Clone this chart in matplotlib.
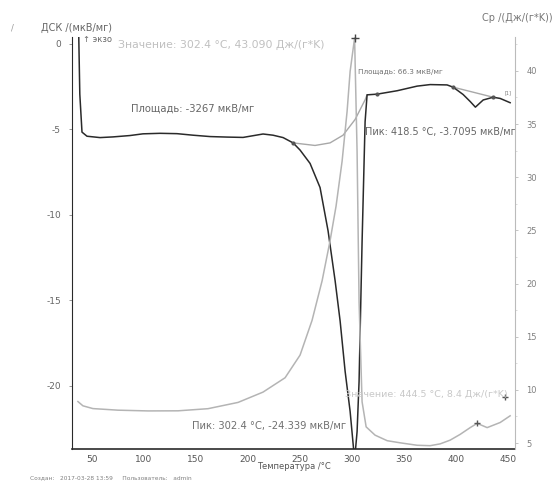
import matplotlib.pyplot as plt
import numpy as np

# ДСК, мкВ/мг (левая ось)
dsc_t = [37.3, 38.3, 40.4, 45.2, 57.7, 70.2, 86.5, 99.0, 115.4, 131.7, 147.1, 163.5,
         179.8, 195.2, 204.8, 214.4, 224.0, 233.7, 243.3, 250.0, 259.6, 269.2, 276.9,
         283.7, 288.5, 293.3, 298.1, 302.4, 304.8, 306.7, 309.6, 312.5, 314.4, 324.0,
         343.3, 362.5, 375.0, 391.3, 397.1, 406.7, 413.5, 418.5, 426.0, 435.6, 442.3, 451.9]
dsc_v = [0.4, -2.95, -5.17, -5.41, -5.49, -5.45, -5.37, -5.27, -5.24, -5.26, -5.35, -5.43,
         -5.46, -5.48, -5.38, -5.28, -5.35, -5.49, -5.8, -6.22, -7.0, -8.41, -10.94,
         -13.87, -16.22, -19.16, -21.5, -24.339, -22.68, -19.76, -11.58, -4.56, -2.99, -2.95,
         -2.75, -2.48, -2.39, -2.41, -2.54, -2.97, -3.38, -3.71, -3.29, -3.13, -3.2, -3.45]

# базовые линии интегрирования
bl1_t = [243.3, 264.4, 278.8, 291.3, 302.9, 312.5, 314.4]
bl1_v = [-5.8, -5.95, -5.8, -5.35, -4.43, -3.28, -2.99]
bl2_t = [397.1, 435.6]
bl2_v = [-2.54, -3.13]

# Cp, Дж/(г*K) (правая ось)
cp_t = [36.5, 41.3, 50.9, 75.0, 103.8, 132.7, 161.5, 190.4, 214.4, 235.6, 250.0, 261.5,
        271.2, 278.8, 284.6, 290.4, 295.2, 298.1, 302.4, 304.8, 306.7, 309.6, 313.5, 322.1,
        333.7, 346.2, 362.5, 375.0, 384.6, 394.2, 403.8, 413.5, 420.2, 429.8, 442.3, 451.9]
cp_v = [8.9, 8.5, 8.24, 8.09, 8.02, 8.03, 8.23, 8.82, 9.79, 11.14, 13.27, 16.53,
        20.27, 24.01, 27.29, 31.51, 36.2, 39.95, 43.09, 32.4, 18.29, 8.88, 6.52, 5.74,
        5.22, 5.02, 4.79, 4.75, 4.92, 5.27, 5.81, 6.45, 6.85, 6.45, 6.93, 7.56]

x_ticks = [50, 100, 150, 200, 250, 300, 350, 400, 450]
dsc_ticks = [0, -5, -10, -15, -20]
cp_ticks = [5, 10, 15, 20, 25, 30, 35, 40]

dark = '#2a2a2a'
light = '#b4b4b4'

fig = plt.figure(figsize=(5.56, 4.82), dpi=100)
ax = fig.add_axes([0.1295, 0.0685, 0.797, 0.855])
ax2 = ax.twinx()

ax.plot(bl1_t, bl1_v, color='#a8a8a8', lw=1.0)
ax.plot(bl2_t, bl2_v, color='#a8a8a8', lw=1.0)
ax.plot(dsc_t, dsc_v, color=dark, lw=1.1)
ax.plot([243.3, 324.0, 397.1, 435.6], [-5.8, -2.95, -2.54, -3.13], ls='none',
        marker='o', ms=2, color='#555555')

ax2.plot(cp_t, cp_v, color=light, lw=1.1)
ax2.plot([302.4], [43.09], marker='+', ms=6, mew=1, color='#444444', clip_on=False)
ax2.plot([420.2, 447.0], [6.85, 9.3], ls='none', marker='+', ms=4, mew=1, color='#555555')

ax.set_xlim(30.8, 456.7)
ax.set_ylim(-23.7, 0.4)
ax2.set_ylim(4.44, 43.2)

for s in ['top', 'right']:
    ax.spines[s].set_visible(False)
for s in ['top', 'left', 'bottom']:
    ax2.spines[s].set_visible(False)
ax.spines['left'].set_color(dark)
ax.spines['bottom'].set_color(dark)
ax.spines['bottom'].set_linewidth(1.2)
ax2.spines['right'].set_color('#bbbbbb')

ax.set_xticks(x_ticks)
ax.set_xticklabels([str(v) for v in x_ticks])
ax.set_yticks(dsc_ticks)
ax.set_yticklabels([str(v) for v in dsc_ticks])
ax2.set_yticks(cp_ticks)
ax2.set_yticklabels([str(v) for v in cp_ticks])
ax2.set_yticks(np.arange(5, 43, 2.5), minor=True)

ax.tick_params(axis='x', length=0, pad=4, labelsize=6.5, labelcolor='#555555')
ax.tick_params(axis='y', length=2, width=0.6, color='#888888', pad=6, labelsize=6.5,
               labelcolor='#666666')
ax2.tick_params(axis='y', which='major', length=2, width=0.6, color='#bbbbbb', pad=6,
                labelsize=6, labelcolor='#808080')
ax2.tick_params(axis='y', which='minor', length=1.5, width=0.5, color='#cccccc')

ax.set_xlabel('Температура /°C', fontsize=6, color='#555555', labelpad=-1)

fig.text(112 / 556, 1 - 28 / 482, 'ДСК /(мкВ/мг)', fontsize=7, color='#666666',
         ha='right', va='center')
fig.text(112 / 556, 1 - 39 / 482, '↑ экзо', fontsize=6, color='#666666',
         ha='right', va='center')
fig.text(12 / 556, 1 - 28 / 482, '/', fontsize=6, color='#999999', ha='center', va='center')
fig.text(553 / 556, 1 - 18 / 482, 'Cp /(Дж/(г*K))', fontsize=7, color='#777777',
         ha='right', va='center')
fig.text(30 / 556, 1 - 478 / 482, 'Создан:   2017-03-28 13:59     Пользователь:   admin',
         fontsize=4.2, color='#808080', ha='left', va='center')

ax.text(87.5, -3.78, 'Площадь: -3267 мкВ/мг', fontsize=7.2, color='#666666', va='center')
ax.text(305.8, -1.64, 'Площадь: 66.3 мкВ/мг', fontsize=5.2, color='#707070', va='center')
ax.text(312.5, -5.14, 'Пик: 418.5 °C, -3.7095 мкВ/мг', fontsize=7, color='#666666',
        va='center', clip_on=True)
ax.text(146.2, -22.34, 'Пик: 302.4 °C, -24.339 мкВ/мг', fontsize=7.2, color='#707070',
        va='center')
ax.text(446.7, -2.9, '[1]', fontsize=3.5, color='#777777', va='center')
ax2.text(75.0, 42.43, 'Значение: 302.4 °C, 43.090 Дж/(г*K)', fontsize=7.8, color='#c0c0c0',
         va='center')
ax2.text(293.3, 9.58, 'Значение: 444.5 °C, 8.4 Дж/(г*K)', fontsize=6.8, color='#c8c8c8',
         va='center', clip_on=True)

fig.savefig('out.png', dpi=100, facecolor='white')
